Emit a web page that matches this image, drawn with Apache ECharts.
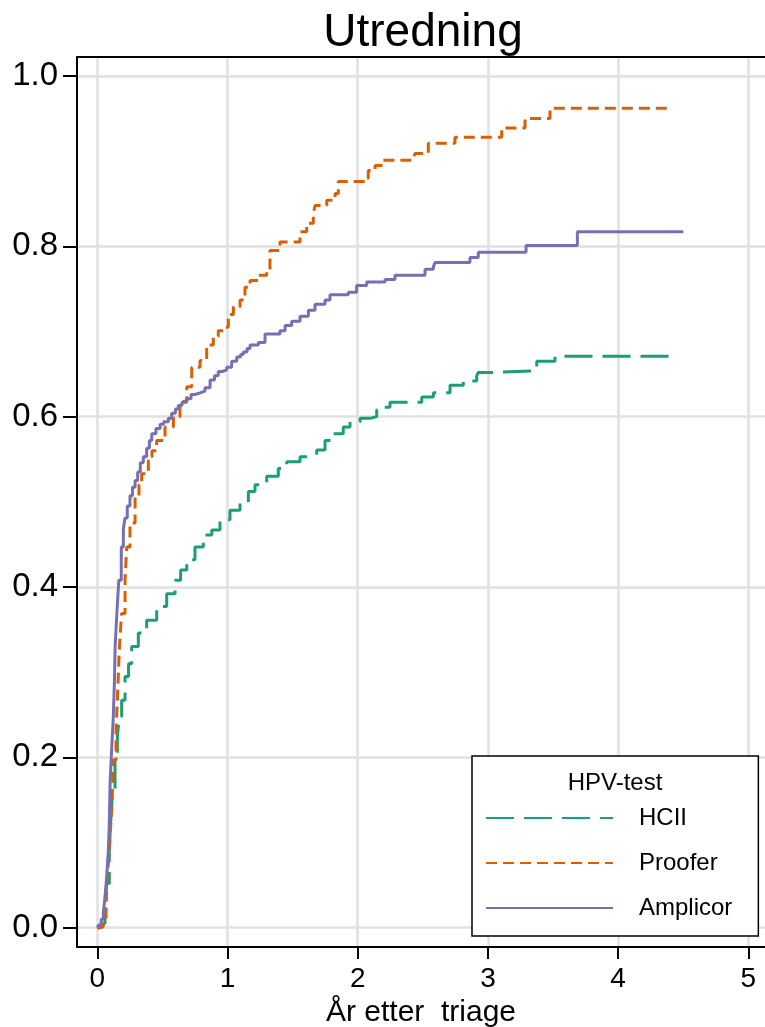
<!DOCTYPE html>
<html>
<head>
<meta charset="utf-8">
<script src="https://cdn.jsdelivr.net/npm/echarts@6/dist/echarts.min.js"></script>
<style>
  html, body { margin: 0; padding: 0; background: #fff; }
  #chart { width: 765px; height: 1027px; }
</style>
</head>
<body>
<div id="chart"></div>
<script>
// Kaplan-Meier-lignende kumulative kurver
var xTicks = [0, 1, 2, 3, 4, 5];
var yTicks = [0, 0.2, 0.4, 0.6, 0.8, 1.0];
var seriesNames = ['HCII', 'Proofer', 'Amplicor'];

// HCII (tid i år, andel)
var hciiT = [0, 0.03, 0.059, 0.072, 0.092, 0.105, 0.118, 0.136, 0.154, 0.169, 0.187, 0.213, 0.240, 0.264, 0.315, 0.379, 0.456, 0.533, 0.597, 0.640, 0.687, 0.750, 0.814, 0.879, 0.942, 1.019, 1.096, 1.160, 1.211, 1.301, 1.390, 1.455, 1.557, 1.634, 1.685, 1.749, 1.813, 1.889, 1.941, 2.018, 2.095, 2.146, 2.197, 2.248, 2.492, 2.581, 2.709, 2.811, 2.914, 2.926, 3.041, 3.375, 3.515, 4.411];
var hciiS = [0, 0.005, 0.021, 0.052, 0.091, 0.130, 0.162, 0.197, 0.224, 0.248, 0.267, 0.295, 0.310, 0.330, 0.346, 0.361, 0.377, 0.392, 0.408, 0.420, 0.432, 0.447, 0.461, 0.467, 0.479, 0.490, 0.499, 0.512, 0.520, 0.530, 0.539, 0.547, 0.553, 0.555, 0.561, 0.572, 0.580, 0.588, 0.594, 0.598, 0.600, 0.608, 0.611, 0.617, 0.623, 0.628, 0.637, 0.642, 0.648, 0.652, 0.654, 0.665, 0.671, 0.671];

// Proofer
var prooferT = [0, 0.02, 0.046, 0.067, 0.072, 0.085, 0.098, 0.110, 0.118, 0.123, 0.144, 0.154, 0.161, 0.169, 0.176, 0.187, 0.213, 0.226, 0.251, 0.290, 0.320, 0.341, 0.392, 0.420, 0.456, 0.520, 0.584, 0.635, 0.660, 0.687, 0.725, 0.789, 0.840, 0.891, 0.929, 0.981, 1.006, 1.045, 1.096, 1.134, 1.173, 1.237, 1.301, 1.326, 1.403, 1.557, 1.608, 1.659, 1.672, 1.762, 1.826, 1.851, 2.056, 2.081, 2.133, 2.197, 2.427, 2.440, 2.542, 2.747, 3.106, 3.285, 3.477, 4.398];
var prooferS = [0, 0.001, 0.005, 0.017, 0.052, 0.076, 0.107, 0.138, 0.169, 0.197, 0.232, 0.267, 0.295, 0.326, 0.345, 0.369, 0.408, 0.447, 0.475, 0.506, 0.520, 0.533, 0.553, 0.560, 0.572, 0.588, 0.600, 0.612, 0.618, 0.635, 0.658, 0.666, 0.684, 0.694, 0.701, 0.705, 0.720, 0.729, 0.737, 0.752, 0.760, 0.766, 0.770, 0.795, 0.805, 0.817, 0.827, 0.838, 0.848, 0.854, 0.862, 0.876, 0.880, 0.889, 0.895, 0.901, 0.904, 0.909, 0.921, 0.928, 0.939, 0.950, 0.962, 0.962];

// Amplicor
var amplicorT = [0, 0.01, 0.03, 0.046, 0.059, 0.072, 0.085, 0.092, 0.098, 0.110, 0.123, 0.131, 0.137, 0.150, 0.165, 0.184, 0.200, 0.213, 0.230, 0.251, 0.270, 0.290, 0.310, 0.330, 0.353, 0.379, 0.400, 0.418, 0.450, 0.482, 0.510, 0.546, 0.571, 0.600, 0.622, 0.650, 0.687, 0.720, 0.750, 0.790, 0.827, 0.866, 0.900, 0.929, 0.960, 0.994, 1.032, 1.071, 1.100, 1.121, 1.150, 1.173, 1.237, 1.288, 1.403, 1.442, 1.493, 1.557, 1.621, 1.672, 1.749, 1.787, 1.928, 1.992, 2.069, 2.210, 2.286, 2.517, 2.581, 2.594, 2.862, 2.926, 3.293, 3.687, 4.501];
var amplicorS = [0, 0.003, 0.010, 0.017, 0.036, 0.060, 0.091, 0.123, 0.169, 0.209, 0.248, 0.287, 0.330, 0.369, 0.408, 0.447, 0.468, 0.481, 0.495, 0.507, 0.517, 0.525, 0.535, 0.546, 0.553, 0.563, 0.572, 0.580, 0.586, 0.591, 0.594, 0.598, 0.604, 0.609, 0.613, 0.617, 0.621, 0.626, 0.628, 0.630, 0.634, 0.643, 0.648, 0.653, 0.655, 0.658, 0.665, 0.670, 0.673, 0.676, 0.680, 0.684, 0.687, 0.697, 0.701, 0.707, 0.712, 0.718, 0.725, 0.732, 0.737, 0.743, 0.746, 0.754, 0.758, 0.761, 0.766, 0.773, 0.776, 0.781, 0.787, 0.793, 0.801, 0.817, 0.817];

function pairs(t, s) {
    var out = [];
    for (var i = 0; i < t.length; i++) out.push([t[i], s[i]]);
    return out;
}

var FONT = '"Liberation Sans", Arial, sans-serif';
var gridColor = '#e1e1e1';

var chart = echarts.init(document.getElementById('chart'), null, {renderer: 'canvas'});

function makeSeries(name, data, color, dash) {
    return {
        name: name,
        type: 'line',
        step: 'end',
        data: data,
        symbol: 'none',
        animation: false,
        lineStyle: {color: color, width: 3, type: dash},
        itemStyle: {color: color}
    };
}

var option = {
    backgroundColor: '#fff',
    animation: false,
    graphic: [
        {type: 'text', x: 423, y: 10, style: {text: 'Utredning', font: '46px ' + FONT, fill: '#000', textAlign: 'center'}},
        {type: 'text', x: 615, y: 771, z: 200, style: {text: 'HPV-test', font: '24px ' + FONT, fill: '#000', textAlign: 'center'}}
    ],
    grid: {left: 77, right: 0, top: 57, bottom: 80, containLabel: false, outerBoundsMode: 'none'},
    xAxis: [{
        type: 'value',
        min: -0.156,
        max: 5.128,
        name: 'År etter  triage',
        nameLocation: 'middle',
        nameGap: 48,
        nameTextStyle: {fontSize: 30, fontFamily: FONT, color: '#000'},
        axisLine: {show: true, onZero: false, lineStyle: {color: '#000', width: 2}},
        axisTick: {show: true, length: 12, customValues: xTicks, lineStyle: {color: '#000', width: 2}},
        axisLabel: {customValues: xTicks, margin: 18, fontSize: 28, fontFamily: FONT, color: '#000'},
        splitLine: {show: true, lineStyle: {color: gridColor, width: 2.5}}
    }, {
        type: 'value',
        position: 'top',
        min: -0.156,
        max: 5.128,
        axisLine: {show: true, onZero: false, lineStyle: {color: '#000', width: 2}},
        axisTick: {show: false},
        axisLabel: {show: false},
        splitLine: {show: false}
    }],
    yAxis: {
        type: 'value',
        min: -0.0227,
        max: 1.0223,
        axisLine: {show: true, onZero: false, lineStyle: {color: '#000', width: 2}},
        axisTick: {show: true, length: 14, customValues: yTicks, lineStyle: {color: '#000', width: 2}},
        axisLabel: {customValues: yTicks, margin: 19, fontSize: 33, fontFamily: FONT, color: '#000',
            formatter: function (v) { return v.toFixed(1); }},
        splitLine: {show: true, lineStyle: {color: gridColor, width: 2.5}}
    },
    legend: {
        data: seriesNames,
        orient: 'vertical',
        left: 472,
        top: 756,
        padding: [50, 26, 16, 13],
        itemWidth: 127,
        itemHeight: 20,
        itemGap: 21,
        backgroundColor: '#fff',
        borderColor: '#000',
        borderWidth: 1.5,
        borderRadius: 0,
        selectedMode: false,
        itemStyle: {opacity: 0},
        textStyle: {fontSize: 24, fontFamily: FONT, color: '#000', width: 110, padding: [0, 0, 0, 21]}
    },
    series: [
        makeSeries('HCII', pairs(hciiT, hciiS), '#1b9e77', [28, 10]),
        makeSeries('Proofer', pairs(prooferT, prooferS), '#d95f02', [11, 6]),
        makeSeries('Amplicor', pairs(amplicorT, amplicorS), '#7570b3', 'solid')
    ]
};

chart.setOption(option);
</script>
</body>
</html>
